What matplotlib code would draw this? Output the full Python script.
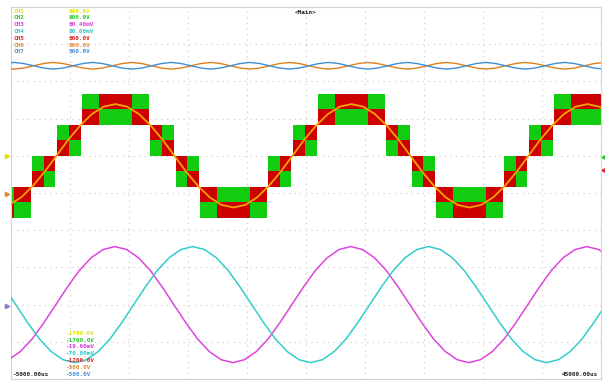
import numpy as np
import matplotlib.pyplot as plt
import matplotlib.transforms as mtransforms

# screen: 10 div x 10 div, 5 ms/div, time in ms
t_left, t_right = -5.0, 45.0

# CH2 (green) / CH5 (red) multilevel output, one entry per switching column
col_start = [-5.0, -4.75, -3.2, -2.2, -1.1, -0.1,
             1.0, 2.45, 5.25, 6.8, 7.8, 8.95, 9.9, 11.0, 12.45, 15.25, 16.8, 17.8, 18.9, 19.9,
             21.0, 22.45, 25.25, 26.8, 27.8, 28.95, 29.9, 31.0, 32.45, 35.25, 36.8, 37.8, 38.9, 39.9,
             41.0, 42.45]
col_end = [-4.75, -3.3, -2.2, -1.25, -0.1, 0.9,
           2.45, 5.25, 6.7, 7.8, 8.8, 9.9, 10.9, 12.45, 15.25, 16.7, 17.8, 18.75, 19.9, 20.9,
           22.45, 25.25, 26.7, 27.8, 28.8, 29.9, 30.9, 32.45, 35.25, 36.7, 37.8, 38.75, 39.9, 40.9,
           42.45, 45.0]
col_level = [-4, -4, -2, -2, 0, 0,
             2, 2, 2, 0, 0, -2, -2, -4, -4, -4, -2, -2, 0, 0,
             2, 2, 2, 0, 0, -2, -2, -4, -4, -4, -2, -2, 0, 0,
             2, 2]
col_top = ['G', 'R', 'G', 'R', 'G', 'R',
           'G', 'R', 'G', 'R', 'G', 'R', 'G', 'R', 'G', 'R', 'G', 'R', 'G', 'R',
           'G', 'R', 'G', 'R', 'G', 'R', 'G', 'R', 'G', 'R', 'G', 'R', 'G', 'R',
           'G', 'R']
level_zero = 1.0      # div
level_step = 5 / 12   # div

# reference sine over the steps, one sample per ms
ref_t0 = -5.15
ref_div = [-0.32, -0.12, 0.19, 0.57, 1.00, 1.43, 1.81, 2.12, 2.32, 2.39,
           2.32, 2.12, 1.81, 1.43, 1.00, 0.57, 0.19, -0.12, -0.32, -0.39,
           -0.32, -0.12, 0.19, 0.57, 1.00, 1.43, 1.81, 2.12, 2.32, 2.39,
           2.32, 2.12, 1.81, 1.43, 1.00, 0.57, 0.19, -0.12, -0.32, -0.39,
           -0.32, -0.12, 0.19, 0.57, 1.00, 1.43, 1.81, 2.12, 2.32, 2.39,
           2.32, 2.12]

# CH3 magenta, one sample per ms
ch3_t0 = -5.2
ch3_div = [-4.48, -4.26, -3.92, -3.48, -3.00, -2.52, -2.08, -1.74, -1.52, -1.44,
           -1.52, -1.74, -2.08, -2.52, -3.00, -3.48, -3.92, -4.26, -4.48, -4.56,
           -4.48, -4.26, -3.92, -3.48, -3.00, -2.52, -2.08, -1.74, -1.52, -1.44,
           -1.52, -1.74, -2.08, -2.52, -3.00, -3.48, -3.92, -4.26, -4.48, -4.56,
           -4.48, -4.26, -3.92, -3.48, -3.00, -2.52, -2.08, -1.74, -1.52, -1.44,
           -1.52, -1.74]

# CH4 cyan, one sample per ms
ch4_t0 = -5.6
ch4_div = [-2.52, -3.00, -3.48, -3.92, -4.26, -4.48, -4.56, -4.48, -4.26, -3.92,
           -3.48, -3.00, -2.52, -2.08, -1.74, -1.52, -1.44, -1.52, -1.74, -2.08,
           -2.52, -3.00, -3.48, -3.92, -4.26, -4.48, -4.56, -4.48, -4.26, -3.92,
           -3.48, -3.00, -2.52, -2.08, -1.74, -1.52, -1.44, -1.52, -1.74, -2.08,
           -2.52, -3.00, -3.48, -3.92, -4.26, -4.48, -4.56, -4.48, -4.26, -3.92,
           -3.48, -3.00]

# CH6 orange / CH7 blue (150 Hz), 8 samples per period
top_t0 = -5.583
top_dt = 6.667 / 8
ch7_div = [3.48, 3.51, 3.48, 3.42, 3.36, 3.33, 3.36, 3.42,
           3.48, 3.51, 3.48, 3.42, 3.36, 3.33, 3.36, 3.42,
           3.48, 3.51, 3.48, 3.42, 3.36, 3.33, 3.36, 3.42,
           3.48, 3.51, 3.48, 3.42, 3.36, 3.33, 3.36, 3.42,
           3.48, 3.51, 3.48, 3.42, 3.36, 3.33, 3.36, 3.42,
           3.48, 3.51, 3.48, 3.42, 3.36, 3.33, 3.36, 3.42,
           3.48, 3.51, 3.48, 3.42, 3.36, 3.33, 3.36, 3.42,
           3.48, 3.51, 3.48, 3.42, 3.36, 3.33]
ch6_div = [3.36, 3.33, 3.36, 3.42, 3.48, 3.51, 3.48, 3.42,
           3.36, 3.33, 3.36, 3.42, 3.48, 3.51, 3.48, 3.42,
           3.36, 3.33, 3.36, 3.42, 3.48, 3.51, 3.48, 3.42,
           3.36, 3.33, 3.36, 3.42, 3.48, 3.51, 3.48, 3.42,
           3.36, 3.33, 3.36, 3.42, 3.48, 3.51, 3.48, 3.42,
           3.36, 3.33, 3.36, 3.42, 3.48, 3.51, 3.48, 3.42,
           3.36, 3.33, 3.36, 3.42, 3.48, 3.51, 3.48, 3.42,
           3.36, 3.33, 3.36, 3.42, 3.48, 3.51]

# channel readouts
ch_names = ['CH1', 'CH2', 'CH3', 'CH4', 'CH5', 'CH6', 'CH7']
ch_scale = ['800.0V', '800.0V', '80.40mV', '80.00mV', '800.0V', '500.0V', '500.0V']
ch_offset = ['-1700.0V', '-1700.0V', '-19.60mV', '-70.00mV', '-1200.0V', '-500.0V', '-500.0V']
ch_colors = ['#e4e400', '#22cc22', '#d83cd8', '#2cc8c8', '#dd2222', '#e08a30', '#4a90d8']

green = '#11cc11'
red = '#cc0000'

fig = plt.figure(figsize=(6.05, 3.82), dpi=100)
ax = fig.add_axes([11 / 605, 3 / 382, 590 / 605, 372 / 382])
ax.set_xlim(t_left, t_right)
ax.set_ylim(-5, 5)

ax.set_xticks(np.arange(-5, 46, 5))
ax.set_yticks(np.arange(-5, 6, 1))
ax.tick_params(length=0, labelbottom=False, labelleft=False)
ax.grid(True, color='#c8c8c8', linestyle=(0, (1, 4)), linewidth=0.8)
ax.set_axisbelow(True)
for s in ax.spines.values():
    s.set_color('#d4d4d4')
    s.set_linewidth(0.8)

# stepped output: each column is two rows, the colours swap between columns
starts = np.array(col_start)
widths = np.array(col_end) - starts
low = level_zero + np.array(col_level) * level_step
top_is_green = np.array(col_top) == 'G'
upper_c = np.where(top_is_green, green, red)
lower_c = np.where(top_is_green, red, green)
ax.bar(starts, level_step, width=widths, bottom=low, align='edge',
       color=lower_c, linewidth=0, zorder=2)
ax.bar(starts, level_step, width=widths, bottom=low + level_step, align='edge',
       color=upper_c, linewidth=0, zorder=2)

ax.plot(ref_t0 + np.arange(len(ref_div)), ref_div, color='#f5a300', lw=1.3, zorder=3)
ax.plot(ch3_t0 + np.arange(len(ch3_div)), ch3_div, color='#dd44dd', lw=1.1, zorder=3)
ax.plot(ch4_t0 + np.arange(len(ch4_div)), ch4_div, color='#33cccc', lw=1.1, zorder=3)
ax.plot(top_t0 + top_dt * np.arange(len(ch6_div)), ch6_div, color='#e0801a', lw=1.0, zorder=3)
ax.plot(top_t0 + top_dt * np.arange(len(ch7_div)), ch7_div, color='#3f8fd6', lw=1.0, zorder=3)

txt = dict(family='DejaVu Sans Mono', fontweight='bold', fontsize=4.3,
           transform=ax.transAxes, va='center', zorder=5)
for i in range(len(ch_names)):
    y = 0.989 - i * 0.0183
    ax.text(0.004, y, ch_names[i], color=ch_colors[i], **txt)
    ax.text(0.098, y, ch_scale[i], color=ch_colors[i], **txt)
    ax.text(0.092, 0.123 - i * 0.0183, ch_offset[i], color=ch_colors[i], **txt)

ax.text(0.5, 0.984, '<Main>', color='#222222', ha='center', **txt)
ax.text(0.002, 0.0134, '-5000.00us', color='#222222', ha='left', **txt)
ax.text(0.995, 0.0134, '45000.00us', color='#222222', ha='right', **txt)

# ground markers on both sides of the screen
blend = mtransforms.blended_transform_factory(ax.transAxes, ax.transData)
ax.plot([-0.007], [1.0], marker='>', ms=3, color='#e4e400', transform=blend, clip_on=False)
ax.plot([-0.007], [-0.03], marker='>', ms=3, color='#e08a30', transform=blend, clip_on=False)
ax.plot([-0.007], [-3.04], marker='>', ms=3, color='#8a7ad8', transform=blend, clip_on=False)
ax.plot([1.004], [0.97], marker='<', ms=2.5, color='#22cc22', transform=blend, clip_on=False)
ax.plot([1.004], [0.62], marker='<', ms=2.5, color='#dd2222', transform=blend, clip_on=False)

fig.savefig('out.png', dpi=100, facecolor='white')
